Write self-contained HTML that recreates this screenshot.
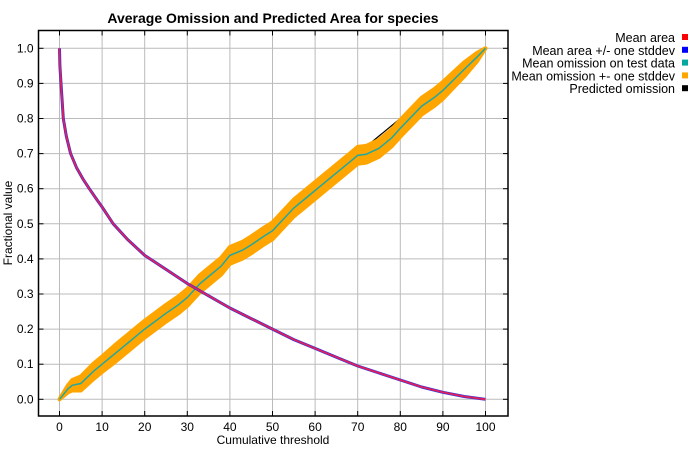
<!DOCTYPE html>
<html><head><meta charset="utf-8"><style>
body{margin:0;background:#fff;font-family:"Liberation Sans",sans-serif}
svg text{font-family:"Liberation Sans",sans-serif}
</style></head><body>
<svg id="c" width="700" height="450">
<text x="273" y="23" text-anchor="middle" font-size="14" font-weight="bold">Average Omission and Predicted Area for species</text>
<g id="grid"></g><g id="marks"></g><g id="axes"></g><g id="legend"></g>
<text x="273" y="444" text-anchor="middle" font-size="12">Cumulative threshold</text>
<text transform="translate(12,223) rotate(-90)" text-anchor="middle" font-size="12">Fractional value</text>
</svg>
<script>
const xTicks=[0,10,20,30,40,50,60,70,80,90,100];
const yTicks=[0,0.1,0.2,0.3,0.4,0.5,0.6,0.7,0.8,0.9,1.0];
const areaX=[0,0.1,0.35,0.9,1.6,2.6,4,5.5,7,9,10,12.6,16,20,25,30,35,40,45,50,55,60,65,70,75,80,85,90,95,100];
const areaY=[1.0,0.95,0.9,0.8,0.75,0.7,0.66,0.628,0.6,0.565,0.548,0.5,0.455,0.41,0.37,0.33,0.295,0.26,0.23,0.2,0.17,0.145,0.12,0.095,0.075,0.055,0.035,0.02,0.008,0];
const omX=[0,2,3,5,8,10,13,15,18,20,25,28,30,33,35,38,40,43,45,48,50,55,58,60,63,65,68,70,72,75,78,80,85,88,90,95,98,100];
const omY=[0,0.03,0.04,0.045,0.08,0.1,0.13,0.15,0.18,0.2,0.245,0.27,0.29,0.33,0.35,0.38,0.41,0.425,0.44,0.465,0.48,0.545,0.575,0.595,0.625,0.645,0.675,0.695,0.698,0.715,0.745,0.772,0.835,0.86,0.88,0.94,0.975,1.0];
const omSd=[0,0.01,0.015,0.02,0.022,0.022,0.024,0.024,0.024,0.024,0.024,0.024,0.024,0.024,0.024,0.024,0.024,0.024,0.024,0.024,0.024,0.024,0.024,0.024,0.024,0.024,0.024,0.024,0.024,0.024,0.024,0.024,0.024,0.024,0.024,0.02,0.012,0];
const predX=[0,100], predY=[0,1];
const L=38.5,R=508,T=30.5,B=416;
const sx=v=>59.5+v*4.26, sy=v=>399.3-v*351;
const NS="http://www.w3.org/2000/svg";
function mk(p,tag,a){const e=document.createElementNS(NS,tag);for(const k in a)e.setAttribute(k,a[k]);document.getElementById(p).appendChild(e);return e;}
xTicks.forEach(t=>{const g=mk('grid','line',{x1:sx(t),x2:sx(t),y1:T,y2:B,stroke:'#bbb'});

mk('axes','line',{x1:sx(t),x2:sx(t),y1:B,y2:B-5,stroke:'#000'});mk('axes','line',{x1:sx(t),x2:sx(t),y1:T,y2:T+5,stroke:'#000'});
const tx=mk('axes','text',{x:sx(t),y:B+15,'text-anchor':'middle','font-size':'12'});tx.textContent=t;
});
yTicks.forEach(t=>{const g=mk('grid','line',{x1:L,x2:R,y1:sy(t),y2:sy(t),stroke:'#bbb'});

mk('axes','line',{x1:L,x2:L+5,y1:sy(t),y2:sy(t),stroke:'#000'});mk('axes','line',{x1:R,x2:R-5,y1:sy(t),y2:sy(t),stroke:'#000'});
const tx=mk('axes','text',{x:L-5,y:sy(t)+4,'text-anchor':'end','font-size':'12'});tx.textContent=t.toFixed(1);
});
const fr=mk('axes','rect',{x:L,y:T,width:R-L,height:B-T,fill:'none',stroke:'#000','stroke-width':1.5});

const pts=(xs,ys)=>xs.map((x,i)=>sx(x).toFixed(1)+','+sy(ys[i]).toFixed(1)).join(' ');
const pred=mk('marks','polyline',{points:pts(predX,predY),fill:'none',stroke:'#000','stroke-width':1.2});

const up=omY.map((v,i)=>v+omSd[i]), lo=omY.map((v,i)=>Math.max(0,v-omSd[i]));
const band=mk('marks','polygon',{points:pts(omX,up)+' '+pts(omX.slice().reverse(),lo.slice().reverse()),fill:'#ffa500',stroke:'#ffa500','stroke-width':4,'stroke-linejoin':'round'});

const om=mk('marks','polyline',{points:pts(omX,omY),fill:'none',stroke:'#20a8a0','stroke-width':1.5});

const ab=mk('marks','polyline',{points:pts(areaX,areaY),fill:'none',stroke:'#3030e0','stroke-width':3,'stroke-linejoin':'round'});

const ar=mk('marks','polyline',{points:pts(areaX,areaY),fill:'none',stroke:'#e0205a','stroke-width':1.8,'stroke-linejoin':'round'});

const legNames=['Mean area','Mean area +/- one stddev','Mean omission on test data','Mean omission +- one stddev','Predicted omission'];
const legColors=['#ff0000','#0000ff','#00a8a0','#ffa500','#000000'];
legNames.forEach((n,i)=>{const y=42+i*12.8;
const t=mk('legend','text',{x:675,y:y,'text-anchor':'end','font-size':'12.5'});t.textContent=n;

const r=mk('legend','rect',{x:682,y:y-8,width:6,height:6,fill:legColors[i]});
});
</script>
</body></html>
